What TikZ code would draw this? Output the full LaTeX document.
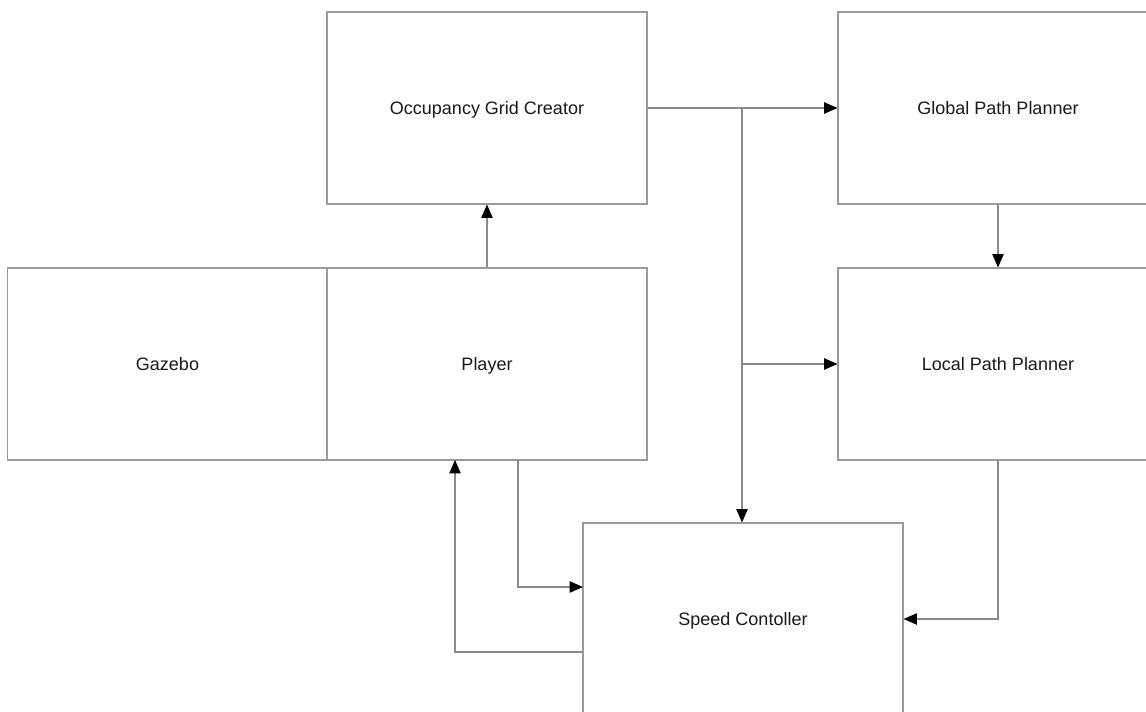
\documentclass[tikz,border=0pt]{standalone}
\usepackage{fontspec}
\setmainfont{Liberation Sans}
\usetikzlibrary{arrows.meta}
\definecolor{boxgray}{HTML}{9A9A9A}
\definecolor{linegray}{HTML}{8A8A8A}
\tikzset{
  blk/.style={draw=boxgray, line width=0.8pt, fill=white, minimum width=240pt, minimum height=144pt, inner sep=0pt,
    font=\fontsize{13.5pt}{16pt}\selectfont, text=black!90, text height=11pt, text depth=1.3pt},
  arr/.style={draw=linegray, line width=0.8pt, -{Triangle[length=10pt,width=8.5pt,color=black,fill=black]}},
}
\begin{document}
\begin{tikzpicture}[x=0.75pt, y=-0.75pt]
\useasboundingbox (0,0) rectangle (1146,711);
\clip (0,0) rectangle (1146,711);
\fill[white] (0,0) rectangle (1146,711);
\node[blk] (occ) at (487,108) {Occupancy Grid Creator};
\node[blk] (glob) at (998,108) {Global Path Planner};
\node[blk] (gaz) at (167.5,364) {Gazebo};
\node[blk] (play) at (487,364) {Player};
\node[blk] (loc) at (998,364) {Local Path Planner};
\node[blk] (spd) at (743,619) {Speed Contoller};
\coordinate (j1) at (742,108);
\coordinate (j2) at (742,364);
\coordinate (pout) at (518,460);
\coordinate (sin) at (583,587);
\coordinate (sout) at (583,652);
\coordinate (pin) at (455,460);
\draw[arr] (occ.east) -- (glob.west);
\draw[arr] (j1) -- (j1 |- spd.north);
\draw[arr] (j2) -- (loc.west);
\draw[arr] (glob.south) -- (loc.north);
\draw[arr] (play.north) -- (occ.south);
\draw[arr] (pout) |- (sin);
\draw[arr] (sout) -| (pin);
\draw[arr] (loc.south) |- (spd.east);
\end{tikzpicture}
\end{document}
